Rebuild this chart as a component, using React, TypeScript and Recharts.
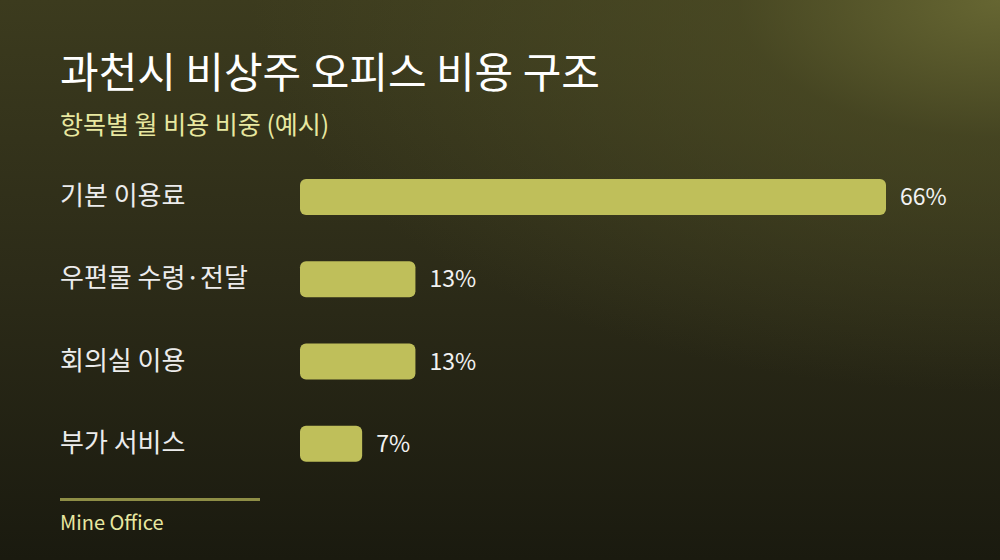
import React from 'react';
import { BarChart, Bar, XAxis, YAxis, LabelList } from 'recharts';

// 항목별 월 비용 비중 (%)
const categories = ['기본 이용료', '우편물 수령·전달', '회의실 이용', '부가 서비스'];
const shares = [66, 13, 13, 7];

const data = categories.map((name, i) => ({ name, value: shares[i] }));

const FONT = '"Noto Sans CJK KR", "Noto Sans", sans-serif';
const BAR_COLOR = '#bfbf5a';

const CategoryTick = (props: any) => {
  const { y, payload } = props;
  return (
    <text x={60} y={y} dy={8} textAnchor="start" fill="#ececec" fontSize={26} fontFamily={FONT}>
      {payload.value}
    </text>
  );
};

export default function App() {
  return (
    <div
      style={{
        position: 'absolute',
        top: 0,
        left: 0,
        width: 1000,
        height: 560,
        overflow: 'hidden',
        fontFamily: FONT,
        background:
          'radial-gradient(ellipse 75% 70% at 100% 0%, rgba(102,102,50,1) 0%, rgba(80,80,38,0.6) 35%, rgba(60,60,30,0) 100%), linear-gradient(180deg, #3c3b1e 0%, #2c2b18 50%, #1a1a0f 100%)',
      }}
    >
      <div style={{ position: 'absolute', left: 60, top: 42, fontSize: 42, fontWeight: 400, color: '#ffffff', lineHeight: '56px' }}>
        과천시 비상주 오피스 비용 구조
      </div>
      <div style={{ position: 'absolute', left: 60, top: 106, fontSize: 25, color: '#e8e8a0', lineHeight: '34px' }}>
        항목별 월 비용 비중 (예시)
      </div>

      <div style={{ position: 'absolute', left: 0, top: 0 }}>
        <BarChart
          width={1000}
          height={560}
          data={data}
          layout="vertical"
          margin={{ top: 156, right: 114, bottom: 75, left: 0 }}
          barCategoryGap={23}
        >
          <XAxis type="number" domain={[0, 66]} hide />
          <YAxis
            type="category"
            dataKey="name"
            width={300}
            axisLine={false}
            tickLine={false}
            tick={<CategoryTick />}
          />
          <Bar dataKey="value" fill={BAR_COLOR} radius={6} isAnimationActive={false}>
            <LabelList
              dataKey="value"
              position="right"
              offset={14}
              formatter={(v: any) => `${v}%`}
              fill="#f2f2f2"
              fontSize={23}
              fontFamily={FONT}
            />
          </Bar>
        </BarChart>
      </div>

      <div style={{ position: 'absolute', left: 60, top: 498, width: 200, height: 3, background: '#8e8e46' }} />
      <div style={{ position: 'absolute', left: 60, top: 508, fontSize: 20, color: '#e8e8a0', lineHeight: '28px' }}>
        Mine Office
      </div>
    </div>
  );
}
